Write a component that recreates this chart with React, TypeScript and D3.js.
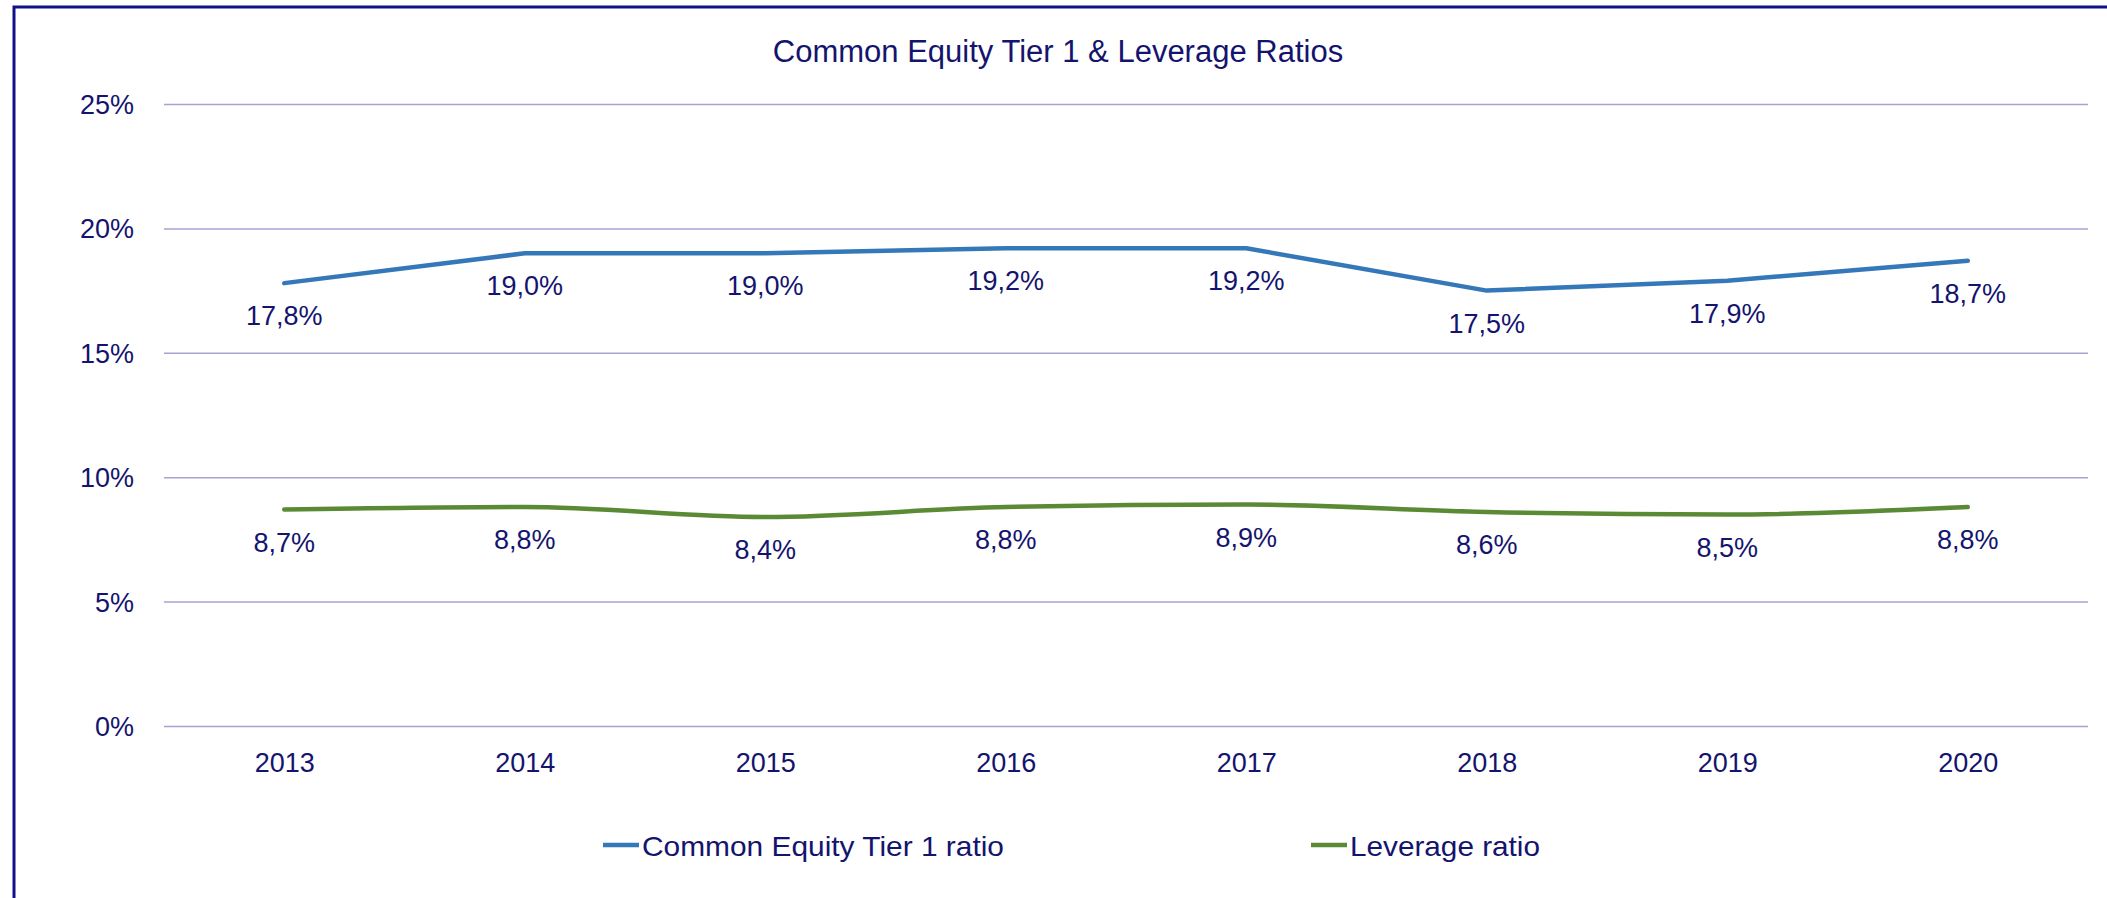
import React, { useEffect, useRef } from "react"
import * as d3 from "d3"

const years = ["2013", "2014", "2015", "2016", "2017", "2018", "2019", "2020"]
const cet1 = [17.8, 19.0, 19.0, 19.2, 19.2, 17.5, 17.9, 18.7]
const leverage = [8.7, 8.8, 8.4, 8.8, 8.9, 8.6, 8.5, 8.8]
const yTicks = [0, 5, 10, 15, 20, 25]
const seriesNames = ["Common Equity Tier 1 ratio", "Leverage ratio"]
const seriesColors = ["#3578BA", "#5B8A35"]

const W = 2107
const H = 898
const navy = "#14146E"
const font = "'Liberation Sans', Arial, sans-serif"

export default function App() {
  const ref = useRef<SVGSVGElement>(null)

  useEffect(() => {
    const svg = d3.select(ref.current)
    svg.selectAll("*").remove()

    const left = 164, right = 2088, top = 104, bottom = 726

    const x = d3.scalePoint().domain(years).range([left, right]).padding(0.5)
    const y = d3.scaleLinear().domain([0, 25]).range([bottom, top])

    // frame (left + top only, rest is cut off)
    svg.append("path")
      .attr("d", `M14,${H + 5} L14,7 L${W + 5},7`)
      .attr("fill", "none")
      .attr("stroke", "#10108A")
      .attr("stroke-width", 3)

    svg.append("text")
      .attr("x", 1058).attr("y", 62)
      .attr("text-anchor", "middle")
      .attr("font-family", font).attr("font-size", 31)
      .attr("fill", navy)
      .text("Common Equity Tier 1 & Leverage Ratios")

    // gridlines + y labels
    const yAxis = d3.axisLeft(y).tickValues(yTicks).tickSize(-(right - left))
      .tickPadding(30).tickFormat(d => d + "%")
    const gy = svg.append("g").attr("transform", `translate(${left},0)`).call(yAxis)
    gy.select(".domain").remove()
    gy.selectAll(".tick line").attr("stroke", "#A4A4D4").attr("stroke-width", 1.5)
    gy.selectAll(".tick text")
      .attr("font-family", font).attr("font-size", 27).attr("fill", navy)
      .attr("dy", "0.35em")

    // x labels
    const xAxis = d3.axisBottom(x).tickSize(0).tickPadding(37)
    const gx = svg.append("g").attr("transform", `translate(0,${bottom})`).call(xAxis)
    gx.select(".domain").remove()
    gx.selectAll(".tick text")
      .attr("font-family", font).attr("font-size", 27).attr("fill", navy)
      .attr("dy", "0.35em")

    const curves = [d3.curveLinear, d3.curveMonotoneX]
    const allSeries = [cet1, leverage]
    allSeries.forEach((vals, s) => {
      const line = d3.line<number>()
        .x((d, i) => x(years[i]) as number)
        .y(d => y(d))
        .curve(curves[s])

      svg.append("path")
        .attr("d", line(vals))
        .attr("fill", "none")
        .attr("stroke", seriesColors[s])
        .attr("stroke-width", 4.5)
        .attr("stroke-linecap", "round")
        .attr("stroke-linejoin", "round")

      svg.append("g").selectAll("text")
        .data(vals)
        .enter()
        .append("text")
        .attr("x", (d, i) => x(years[i]) as number)
        .attr("y", d => y(d) + 42)
        .attr("text-anchor", "middle")
        .attr("font-family", font).attr("font-size", 27)
        .attr("fill", navy)
        .text(d => d.toFixed(1).replace(".", ",") + "%")
    })

    // legend
    const legendX = [603, 1311]
    const legendW = [362, 190]
    seriesNames.forEach((name, s) => {
      svg.append("line")
        .attr("x1", legendX[s]).attr("x2", legendX[s] + 36)
        .attr("y1", 845).attr("y2", 845)
        .attr("stroke", seriesColors[s]).attr("stroke-width", 4.5)
      svg.append("text")
        .attr("x", legendX[s] + 39).attr("y", 856)
        .attr("font-family", font).attr("font-size", 28)
        .attr("fill", navy)
        .attr("textLength", legendW[s])
        .attr("lengthAdjust", "spacingAndGlyphs")
        .text(name)
    })
  }, [])

  return (
    <svg ref={ref} width={W} height={H}
      style={{ position: "absolute", left: 0, top: 0, background: "#fff" }} />
  )
}
